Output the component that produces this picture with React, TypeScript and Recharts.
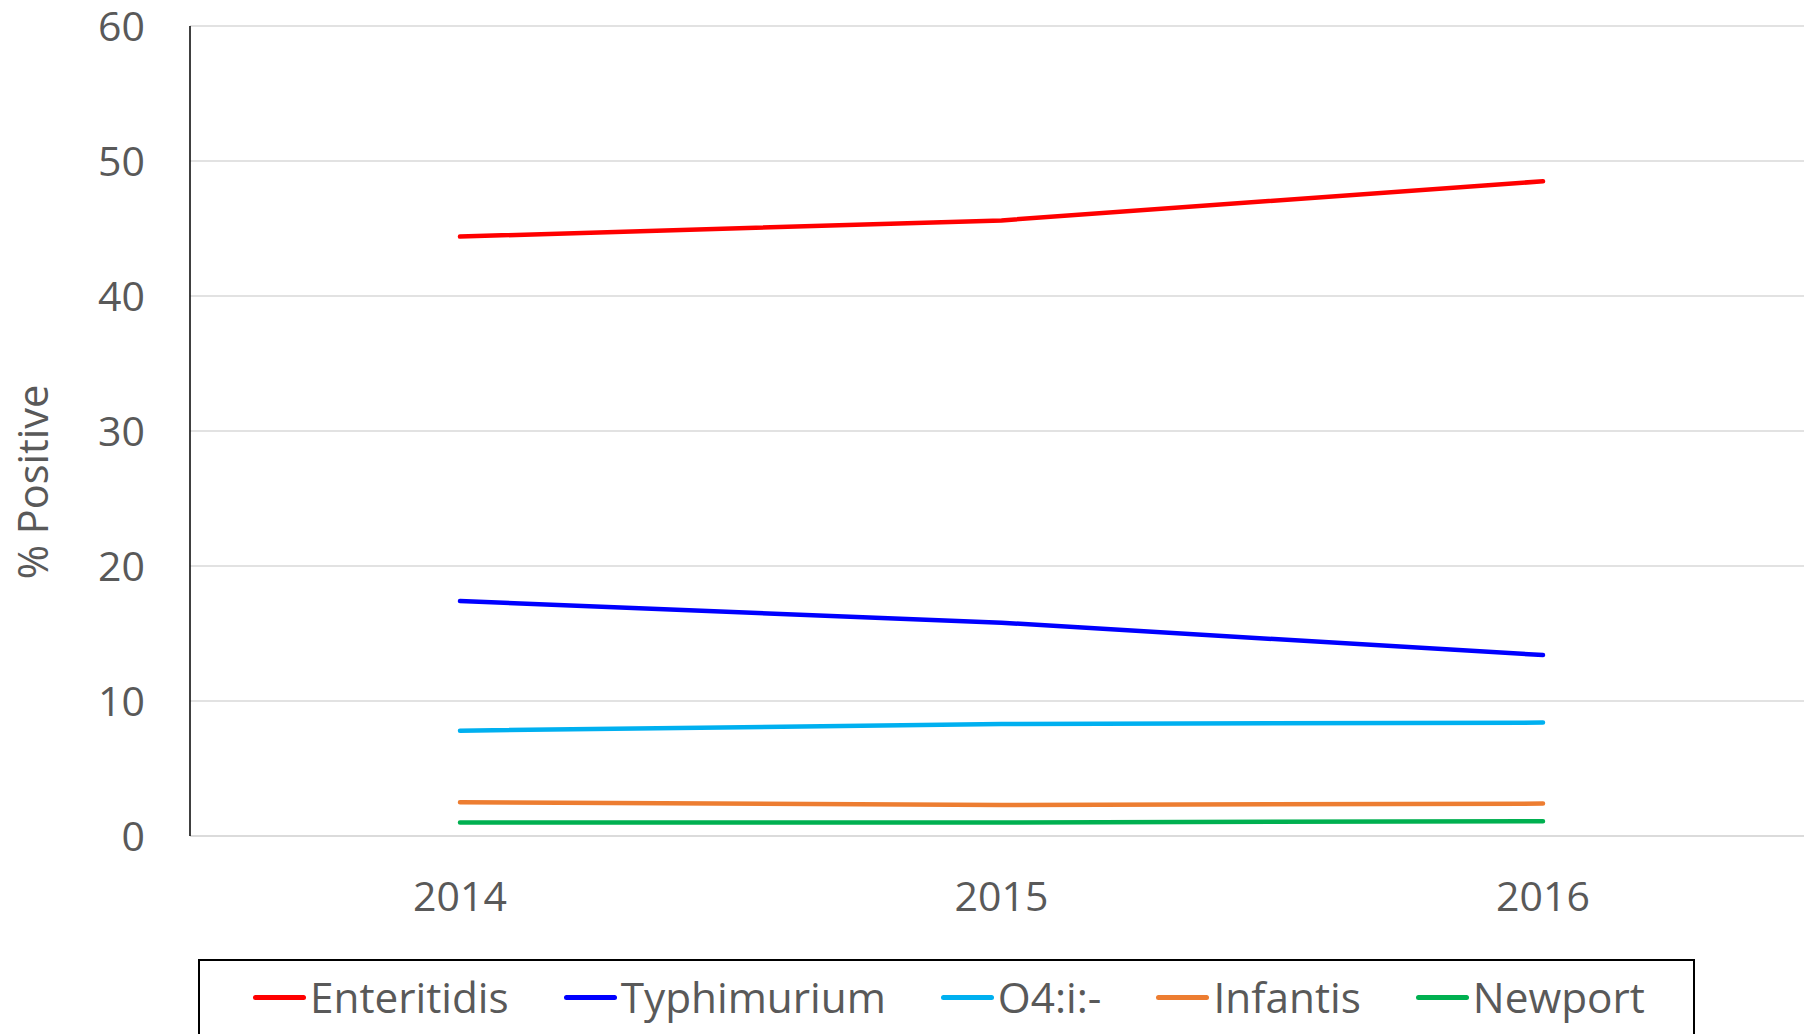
import { LineChart, Line, XAxis, YAxis, CartesianGrid, Legend } from 'recharts';

const years = ['2014', '2015', '2016'];
const enteritidis = [44.4, 45.6, 48.5];
const typhimurium = [17.4, 15.8, 13.4];
const o4i = [7.8, 8.3, 8.4];
const infantis = [2.5, 2.3, 2.4];
const newport = [1.0, 1.0, 1.1];
const yTicks = [0, 10, 20, 30, 40, 50, 60];

const SERIES = [
  { key: 'Enteritidis', color: '#FF0000', values: enteritidis },
  { key: 'Typhimurium', color: '#0000FF', values: typhimurium },
  { key: 'O4:i:-', color: '#00B0F0', values: o4i },
  { key: 'Infantis', color: '#ED7D31', values: infantis },
  { key: 'Newport', color: '#00B050', values: newport },
];

const data = years.map((year, i) => {
  const row: Record<string, string | number> = { year };
  SERIES.forEach((s) => {
    row[s.key] = s.values[i];
  });
  return row;
});

const FONT = '"Open Sans", Lato, sans-serif';
const TEXT = '#595959';
const GRID = '#d9d9d9';

function LegendBox() {
  return (
    <div
      style={{
        boxSizing: 'border-box',
        width: 1497,
        height: 110,
        border: '2px solid #000',
        display: 'flex',
        alignItems: 'flex-start',
        paddingLeft: 53,
        paddingTop: 12,
        fontFamily: FONT,
        fontSize: 42.3,
        color: TEXT,
        lineHeight: '48px',
        whiteSpace: 'nowrap',
      }}
    >
      {SERIES.map((s) => (
        <div key={s.key} style={{ display: 'flex', alignItems: 'center', marginRight: 55 }}>
          <span
            style={{
              display: 'inline-block',
              width: 53,
              height: 5,
              borderRadius: 3,
              background: s.color,
              marginRight: 4,
            }}
          />
          <span>{s.key}</span>
        </div>
      ))}
    </div>
  );
}

function YLabel({ viewBox }: any) {
  const x = 32;
  const y = viewBox.y + viewBox.height / 2 + 51;
  return (
    <text
      x={x}
      y={y}
      transform={`rotate(-90 ${x} ${y})`}
      textAnchor="middle"
      dominantBaseline="central"
      fill={TEXT}
      fontSize={41.5}
      fontFamily={FONT}
    >
      % Positive
    </text>
  );
}

export default function App() {
  return (
    <div
      style={{
        position: 'fixed',
        left: 0,
        top: 0,
        width: 1804,
        height: 1034,
        overflow: 'hidden',
        background: '#fff',
      }}
    >
      <LineChart
        width={1820}
        height={1034}
        data={data}
        margin={{ top: 26, right: 7, left: 0, bottom: 98 }}
      >
        <CartesianGrid vertical={false} stroke={GRID} strokeWidth={1.5} />
        <XAxis
          dataKey="year"
          height={100}
          padding={{ left: 270, right: 270 }}
          axisLine={{ stroke: GRID, strokeWidth: 1.5 }}
          tickLine={false}
          tickSize={0}
          tickMargin={46}
          tick={{ fill: TEXT, fontSize: 41, fontFamily: FONT }}
        />
        <YAxis
          width={190}
          domain={[0, 60]}
          ticks={yTicks}
          interval={0}
          axisLine={{ stroke: '#000', strokeWidth: 1.5 }}
          tickLine={false}
          tickSize={0}
          tickMargin={45}
          tick={{ fill: TEXT, fontSize: 41, fontFamily: FONT }}
          label={{ content: YLabel } as any}
        />
        <Legend
          layout="horizontal"
          verticalAlign="middle"
          wrapperStyle={{ left: 198, top: 959, width: 1497, height: 110 }}
          content={() => <LegendBox />}
        />
        {SERIES.map((s) => (
          <Line
            key={s.key}
            type="linear"
            dataKey={s.key}
            stroke={s.color}
            strokeWidth={4.5}
            strokeLinecap="round"
            dot={false}
            activeDot={false}
            isAnimationActive={false}
          />
        ))}
      </LineChart>
    </div>
  );
}
